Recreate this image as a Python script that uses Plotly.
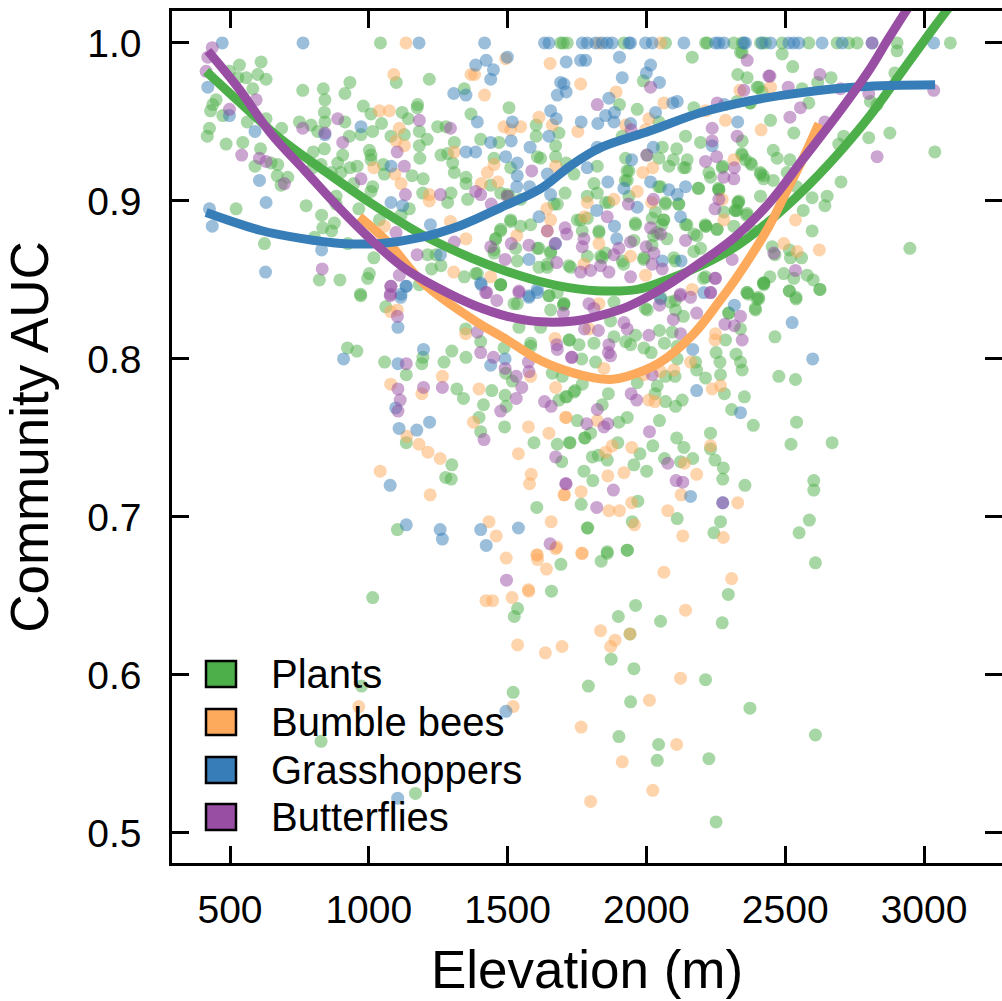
import plotly.graph_objects as go

series_names = ["Plants", "Bumble bees", "Grasshoppers", "Butterflies"]
series_colors = ["#4DAF4A", "#FDAA5C", "#377EB8", "#984EA3"]
x_ticks = [500, 1000, 1500, 2000, 2500, 3000]
y_ticks = [0.5, 0.6, 0.7, 0.8, 0.9, 1.0]

plants = [(1042,1.0),(534,.986),(612,.988),(498,.982),(600,.980),(630,.977),(558,.978),(528,.978),(582,.971),(932,.975),(836,.971),(762,.970),(914,.968),(1099,.975),(1218,.977),(450,.964),(438,.961),(430,.957),(474,.954),(842,.964),(840,.956),(980,.960),(1176,.961),(1174,.959),(1120,.956),(1142,.952),(750,.950),(562,.950),(630,.952),(842,.950),(914,.950),(1008,.955),(1046,.949),(1248,.947),(1278,.947),(426,.946),(418,.941),(686,.946),(792,.948),(816,.944),(930,.941),(972,.942),(1014,.944),(486,.936),(546,.937),(610,.933),(840,.933),(800,.931),(906,.929),(1002,.932),(1008,.929),(1080,.941),(1128,.942),(1182,.944),(1210,.939),(1182,.935),(590,.922),(672,.923),(648,.924),(670,.916),(888,.924),(828,.923),(798,.921),(864,.918),(900,.918),(932,.921),(958,.922),(1008,.926),(1052,.923),(1056,.917),(1156,.916),(1184,.927),(1196,.914),(684,.910),(708,.915),(946,.911),(1014,.909),(1008,.906),(882,.903),(1194,.905),(1296,.905),(774,.897),(522,.895),(830,.891),(882,.898),(964,.895),(876,.886),(834,.883),(866,.881),(624,.873),(1038,.888),(804,.877),(924,.873),(1018,.864),(822,.850),(896,.850),(996,.851),(1002,.854),(970,.841),(1212,.866),(1242,.866),(1226,.857),(1260,.859),(1344,.852),(1182,.847),(1116,.891),(1146,.895),(1284,.899),(1356,.901),(1350,.915),(1350,.911),(1308,.918),(1302,.924),(1308,.937),(1260,.929),(1284,.930),(1368,.955),(1344,.971),
(1691,1.0),(1700,1.0),(1715,1.0),(1919,1.0),(2069,1.0),(2213,1.0),(2315,1.0),(2345,1.0),(2429,1.0),(2219,1.0),(2411,1.0),(2489,1.0),(2585,1.0),(2687,1.0),(2729,1.0),(2759,1.0),(2903,1.0),(3095,1.0),
(2165,.991),(2345,.994),(1989,.976),(2329,.980),(2363,.978),(2405,.972),(1903,.961),(1967,.958),(1505,.959),(2171,.959),(2327,.963),(2373,.962),(2045,.950),(1603,.948),(1603,.941),(1685,.943),(1913,.941),(2141,.941),(2195,.937),(2345,.938),(1469,.937),(1403,.939),(1673,.935),(1673,.928),(1607,.928),(1619,.927),(1451,.927),(2057,.934),(2109,.933),(2045,.927),(1925,.927),(2003,.929),(2097,.926),(2147,.926),(2081,.922),(2141,.921),(1823,.922),(1711,.924),(1511,.921),(1739,.917),(1937,.919),(2225,.918),(2231,.915),(2345,.929),(2375,.924),(2411,.917),(2273,.921),(1931,.913),(1811,.911),(2051,.909),(2187,.908),(1707,.905),(1475,.905),(1505,.903),(1823,.905),(1787,.903),(2261,.907),(1853,.899),(1937,.903),(2069,.899),(2117,.898),(2333,.900),(2327,.894),(2363,.892),(2279,.893),(1679,.898),(1751,.888),(1787,.889),(1961,.885),(2021,.889),(2063,.888),(1511,.888),(1475,.882),(1583,.885),(2141,.885),(2213,.884),(1829,.881),(2255,.882),(1457,.876),(1547,.884),(2039,.880),(2171,.879),(1955,.875),(1613,.870),(1655,.868),(1835,.865),(1721,.859),(1913,.862),(1991,.864),(2099,.864),(2171,.868),(1451,.869),(1643,.860),(1385,.854),(1475,.847),(1853,.867),(1787,.865),(2195,.870),(2327,.876),(2387,.881),(2363,.842),(2423,.848),(1679,.842),(1535,.862),
(2339,.994),(2489,.993),(2903,.995),(2527,.985),(2895,.981),(2617,.975),(2665,.978),(2399,.972),(2417,.969),(2561,.971),(2375,.962),(2585,.962),(2807,.963),(2831,.961),(2447,.951),(2531,.943),(2877,.943),(2711,.941),(2693,.936),(2801,.940),(3039,.931),(2457,.932),(2471,.927),(2517,.926),(2343,.930),(2357,.926),(2379,.923),(2275,.922),(2507,.918),(2411,.918),(2421,.916),(2457,.913),(2701,.912),(2541,.909),(2261,.907),(2411,.903),(2329,.899),(2321,.894),(2597,.902),(2651,.903),(2643,.897),(2565,.894),(2361,.891),(2597,.881),(2949,.870),(2215,.884),(2315,.884),(2453,.871),(2463,.866),(2515,.869),(2519,.864),(2559,.864),(2445,.852),(2495,.854),(2531,.851),(2579,.853),(2601,.850),(2625,.844),(2515,.843),(2423,.848),(2403,.839),(2539,.839),(2213,.852),
(971,.840),(923,.807),(957,.805),(1057,.798),(1135,.790),(1191,.797),(1195,.801),(1299,.805),(1271,.798),(1350,.801),(1317,.781),(1341,.775),(1443,.780),(1413,.771),(1491,.777),(1495,.770),(1397,.763),(1403,.754),(1489,.757),(1517,.786),(1595,.747),(1679,.746),(1725,.747),(1751,.761),(1779,.750),(1695,.735),(1775,.729),(1765,.708),(1605,.706),(1787,.693),(1135,.747),(1299,.733),(1277,.725),(1297,.724),(1103,.692),(1685,.774),(1713,.776),(1743,.780),(1769,.784),(1061,.833),(1523,.835),(1649,.840),(1541,.820),(1349,.819),(1403,.811),(1583,.810),(1583,.808),(1487,.807),(1475,.847),(1721,.812),(1757,.809),(1767,.800),(1661,.791),(1697,.789),(1493,.791),(1619,.820),(1703,.835),
(2423,.847),(2515,.843),(2539,.838),(2625,.844),(2367,.841),(2405,.838),(2393,.831),(2297,.829),(2463,.814),(2477,.789),(2537,.787),(2541,.760),(2521,.746),(2669,.747),(2603,.723),(2603,.717),(2587,.698),(2550,.690),(2353,.776),(2307,.768),(2385,.758),(2231,.753),(2281,.778),(2267,.790),(2213,.788),(2345,.793),(2339,.798),(2323,.803),(2265,.798),(2181,.793),(2177,.798),(2111,.800),(2251,.804),(2285,.812),(2339,.819),(2047,.761),(2109,.750),(2135,.744),(2167,.737),(2231,.743),(2247,.736),(2277,.731),(2275,.724),(2355,.720),(2267,.697),(2243,.690),(2111,.699),(2023,.745),(1977,.740),(1955,.733),(2001,.729),(2065,.737),(2123,.735),(1969,.710),(1949,.697),(1931,.679),(1859,.677),(1789,.693),(1807,.723),(1859,.736),(1805,.738),(1827,.739),(1723,.747),(1799,.753),(1777,.750),(1897,.747),(1901,.760),(1931,.763),(1863,.778),(1739,.779),(1709,.776),(1841,.771),(2069,.773),(2105,.770),(2129,.774),(2031,.778),(2039,.783),(1967,.785),(2103,.789),(2069,.789),(1943,.809),(1883,.814),(1811,.810),(1723,.812),(1817,.798),(1991,.807),(2017,.804),(2047,.818),(2093,.817),(1961,.815),(2065,.810),(2111,.808),(1925,.811),(2003,.831),(1871,.824),(2105,.831),(2133,.827),(1701,.834),(1883,.836),(2051,.839),
(1014,.649),(1692,.670),(1536,.642),(1524,.637),(1658,.653),(974,.593),(1520,.589),(828,.558),(1168,.525),
(1859,.678),(1931,.679),(1837,.672),(2609,.671),(2295,.651),(1961,.644),(1899,.637),(2051,.634),(2273,.633),(1941,.626),(1873,.610),(1955,.604),(1791,.593),(2213,.597),(1943,.583),(2373,.579),(2609,.562),(1901,.561),(2044,.556),(2039,.546),(2225,.547),(2251,.507),
(1511,.887),(1457,.876),(1451,.867),(1529,.870),(1607,.870),(1655,.867),(1643,.858),(1727,.858),(1613,.858),(1829,.880),(1769,.881),(1841,.864),(1475,.847),(1649,.840),(1703,.835),(1535,.835),(1655,.831),(1763,.888),(1865,.899),(1391,.854),(1475,.881),(1439,.910),(1499,.904),(1547,.901),(1667,.898),
(1930,.919),(1924,.913),(2044,.909),(2068,.898),(2116,.898),(2032,.893),(1960,.886),(2062,.888),(2056,.885),(2146,.885),(2212,.885),(2182,.878),(2254,.882),(2026,.878),(2074,.876),(2020,.872),(2188,.908),(2260,.908),(2332,.899),(2320,.894),(2422,.914),(2134,.921),(2104,.862),(1990,.863),(1918,.860),(2206,.851),(2104,.837),(1996,.832),(2086,.836),(2362,.842),(2398,.838),(2392,.832),(2296,.829),(2422,.848)]

bumble_bees = [(1134,1.0),(1090,.980),(1038,.957),(1074,.957),(1110,.946),(1098,.938),(1128,.935),(1018,.921),(1094,.917),(1308,.931),(1116,.911),(1218,.904),(1218,.900),(1056,.884),(1294,.887),(1350,.876),(1306,.855),(1368,.980),
(1829,1.0),(2051,1.0),
(1653,.987),(1493,.990),(1763,.974),(1891,.969),(1417,.967),(1381,.980),(2063,.962),(1613,.953),(1661,.948),(1547,.947),(1487,.947),(1511,.945),(1753,.944),(1925,.948),(1997,.945),(2009,.952),(2213,.957),(2285,.951),(2413,.945),(1451,.923),(1427,.918),(1465,.912),(1673,.922),(1405,.911),(1987,.918),(2023,.921),(2315,.926),(1967,.906),(1883,.901),(1787,.899),(1641,.895),(1655,.888),(1533,.878),(1829,.873),(2279,.888),(1777,.890),(2019,.899),(2273,.901),(1943,.865),(1775,.860),(1997,.853),(1439,.852),(1643,.881),
(2495,.873),(2543,.868),(2623,.869),(2537,.888),(2337,.970),(2447,.972),
(1079,.784),(1191,.778),(1265,.789),(1397,.781),(1377,.760),(1137,.751),(1181,.746),(1213,.741),(1257,.737),(1041,.729),(1221,.714),(1673,.782),(1711,.763),(1575,.757),(1649,.753),(1539,.740),(1585,.727),(1579,.721),(1705,.714),(1765,.716),(1433,.697),(1459,.688),(1657,.697),(1495,.674),(1607,.676),(1769,.677),(1677,.681),(1349,.816),(1583,.789),(1671,.813),(1103,.831),(1079,.830),
(2165,.844),(2249,.816),(2247,.812),(2159,.798),(2099,.793),(2051,.792),(1991,.790),(1847,.794),(2237,.781),(2267,.783),(2009,.774),(2031,.773),(1709,.763),(1823,.761),(1793,.819),(1829,.835),(1947,.744),(1853,.741),(1877,.745),(2231,.745),(2137,.734),(2181,.727),(1919,.728),(1861,.726),(1703,.714),(2125,.714),(2329,.709),(1947,.709),(1903,.704),(1865,.704),(2077,.704),(1957,.695),(2131,.688),(2277,.687),
(1640,.667),(1422,.647),(1446,.647),(1516,.649),(1576,.653),(1536,.619),(1636,.614),(1696,.618),(964,.580),(1520,.580),(1608,.673),
(1605,.676),(1767,.677),(1673,.680),(1575,.654),(2063,.665),(2307,.661),(2141,.641),(1835,.628),(1941,.626),(1887,.622),(1871,.618),(2123,.598),(2011,.584),(1765,.567),(2109,.556),(1913,.545),(2023,.527),(1799,.520)]

grasshoppers = [(472,1.0),(763,1.0),(1181,1.0),(420,.972),(1306,.968),(1350,.967),(498,.954),(972,.947),(590,.944),(842,.942),(1080,.922),(606,.913),(630,.899),(426,.895),(436,.884),(1080,.899),(1122,.897),(1350,.931),(1222,.885),(830,.869),(628,.855),(1134,.846),(1116,.841),(1258,.866),
(1417,1.0),(1633,1.0),(1649,1.0),(1769,1.0),(1787,1.0),(1817,1.0),(1841,1.0),(1859,1.0),(1877,1.0),(1937,1.0),(1943,1.0),(1997,1.0),(2021,1.0),(2135,1.0),(2249,1.0),(2261,1.0),(2279,1.0),(2357,1.0),(2417,1.0),(2351,1.0),(2447,1.0),(2513,1.0),(2531,1.0),(2549,1.0),(2633,1.0),(2705,1.0),(2813,1.0),(3035,1.0),
(1385,.986),(1423,.989),(1449,.983),(1439,.977),(1499,.991),(1711,.988),(1763,.989),(1781,.989),(1903,.991),(2015,.986),(2000,.981),(1913,.978),(2047,.975),(1691,.975),(1703,.974),(1711,.969),(1679,.967),(1865,.965),(1391,.950),(1517,.950),(1655,.957),(1675,.952),(1765,.950),(1825,.949),(1853,.954),(1883,.950),(1885,.956),(1943,.949),(2033,.956),(2111,.963),(2095,.962),(1649,.941),(1513,.938),(1823,.934),(2025,.934),(1581,.934),(1439,.937),(1385,.931),(1493,.928),(1535,.924),(1535,.916),(1533,.909),(1579,.909),(1643,.917),(1787,.921),(1861,.912),(1947,.926),(2015,.912),(1919,.908),(2081,.907),(2141,.909),(2111,.904),(1967,.896),(1821,.894),(1655,.904),(1613,.890),(2123,.890),(1885,.884),(1893,.876),(1673,.873),(1577,.863),(2057,.862),(2125,.862),(2237,.935),(2281,.961),(2329,.950),(1403,.848),(1607,.844),(1577,.840),
(909,.800),(1105,.820),(1135,.846),(1115,.839),(1197,.806),(1105,.797),(1097,.769),(1219,.760),(1173,.755),(1109,.756),(1077,.720),(1135,.695),(1257,.692),(1265,.686),(1403,.692),(1539,.693),(1423,.682),(1439,.796),(1491,.800),(1405,.847),(1577,.839),(1607,.842),
(2317,.834),(2525,.823),(2599,.800),(2167,.806),(2181,.780),(2339,.766),(2159,.713),(2275,.709),(2051,.838),(2207,.842),
(1494,.577),(1104,.522)]

butterflies = [(436,.997),(420,.991),(414,.982),(594,.964),(498,.958),(888,.952),(1182,.951),(762,.946),(842,.943),(906,.937),(1294,.946),(1102,.931),(542,.929),(606,.927),(630,.925),(1128,.922),(696,.911),(972,.914),(1132,.904),(1258,.904),(1098,.880),(1308,.874),(1174,.866),(832,.857),(1110,.853),(1080,.846),(1078,.841),
(2015,.972),(1823,.961),(2255,.962),(1945,.945),(2237,.946),(2237,.938),(2327,.941),(2213,.925),(2253,.928),(2317,.921),(2279,.915),(2315,.914),(2001,.929),(1587,.919),(1403,.904),(1385,.906),(1441,.898),(1499,.903),(1935,.898),(2025,.901),(2261,.901),(2247,.895),(1859,.890),(1707,.883),(1713,.879),(1643,.881),(1775,.876),(1769,.871),(2015,.883),(2051,.879),(2141,.875),(1943,.874),(1901,.870),(1883,.866),(1577,.872),(1513,.873),(1439,.871),(1671,.873),(1999,.871),(1491,.863),(1677,.861),(1763,.855),(1835,.859),(1799,.856),(1865,.855),(2021,.860),(2057,.857),(2027,.867),(1943,.852),(2249,.851),(2309,.863),(1541,.843),(2123,.841),(1421,.842),(2441,.979),(2351,.970),(2363,.989),
(2813,1.0),(2445,.979),(2511,.972),(2625,.980),(2555,.959),(2517,.953),(2643,.950),(2831,.928),(3035,.970),(2801,.968),(2699,.971),(2537,.856),(2459,.867),(2247,.851),(2231,.842),
(1079,.846),(1077,.840),(1103,.827),(1135,.797),(1105,.781),(1197,.782),(1265,.782),(1113,.774),(1105,.767),(1403,.804),(1449,.801),(1491,.794),(1531,.789),(1551,.782),(1531,.775),(1475,.767),(1633,.773),(1657,.770),(1731,.801),(1679,.806),(1677,.809),(1575,.798),(1577,.792),(1785,.759),(1673,.738),(1711,.721),(1415,.749),(1653,.683),(1461,.837),(1541,.842),(1391,.817),(1425,.842),
(1793,.835),(1811,.832),(1701,.829),(1777,.819),(1827,.818),(1919,.823),(1931,.819),(2009,.815),(1865,.809),(1863,.804),(1871,.802),(1731,.801),(2097,.825),(2181,.829),(2047,.834),(2121,.840),(2159,.839),(2231,.842),(2283,.822),(2317,.821),(2339,.827),(2345,.812),(2123,.816),(2021,.790),(1945,.778),(1965,.774),(1823,.768),(1847,.757),(1861,.759),(2011,.754),(2077,.734),(2107,.723),(2131,.722),(2275,.709),(1709,.721),(1881,.717),(1821,.706),(1496,.660)]

plants_curve = [(414,.982),(528,.9635),(684,.939),(828,.9205),(1008,.8985),(1188,.879),(1368,.864),(1487,.856),(1607,.8495),(1727,.845),(1847,.843),(1967,.844),(2087,.851),(2201,.8595),(2321,.871),(2441,.887),(2561,.906),(2681,.928),(2801,.953),(2921,.982),(3041,1.011),(3110,1.027)]
bumble_bees_curve = [(966,.890),(1068,.874),(1199,.8476),(1379,.8245),(1499,.812),(1619,.799),(1739,.791),(1811,.788),(1871,.787),(1931,.789),(2051,.798),(2171,.816),(2261,.836),(2327,.852),(2441,.8837),(2501,.9047),(2561,.9257),(2621,.949)]
grasshoppers_curve = [(414,.8927),(612,.8813),(755,.8763),(899,.8731),(1043,.8731),(1187,.8769),(1331,.8845),(1475,.8958),(1619,.9078),(1727,.9223),(1835,.9337),(2014,.9444),(2194,.9558),(2374,.9634),(2554,.9684),(2770,.9722),(3040,.9735)]
butterflies_curve = [(420,.995),(528,.972),(648,.9425),(768,.9195),(888,.8965),(1008,.8755),(1128,.8575),(1248,.845),(1379,.834),(1499,.827),(1619,.8235),(1739,.824),(1811,.8265),(1931,.833),(2051,.844),(2201,.8617),(2321,.8774),(2441,.8984),(2561,.9257),(2681,.953),(2801,.9824),(2873,1.003),(2960,1.027)]

points = [plants, bumble_bees, grasshoppers, butterflies]
curves = [plants_curve, bumble_bees_curve, grasshoppers_curve, butterflies_curve]

fig = go.Figure()
for name, color, pts in zip(series_names, series_colors, points):
    fig.add_trace(go.Scatter(x=[p[0] for p in pts], y=[p[1] for p in pts], mode="markers", name=name,
                             marker=dict(color=color, size=13, opacity=0.5, line=dict(width=0)), showlegend=False))
for name, color, c in zip(series_names, series_colors, curves):
    fig.add_trace(go.Scatter(x=[p[0] for p in c], y=[p[1] for p in c], mode="lines", name=name + " trend",
                             line=dict(color=color, width=9, shape="spline", smoothing=1.0), showlegend=False))

FONT = "Liberation Sans, Arial, sans-serif"
INK = "#000000"
axis = dict(showgrid=False, zeroline=False, showline=True, linecolor=INK, linewidth=2.5,
            ticks="inside", ticklen=17, tickwidth=2.5, tickcolor=INK, mirror="ticks",
            tickfont=dict(family=FONT, size=39, color=INK))
fig.update_xaxes(range=[291, 3281], tickvals=x_ticks, ticktext=[str(t) for t in x_ticks], ticklabelstandoff=10,
                 title=dict(text="Elevation (m)", font=dict(family=FONT, size=53, color=INK), standoff=22), **axis)
fig.update_yaxes(range=[0.481, 1.0202], tickvals=y_ticks, ticktext=["%.1f" % t for t in y_ticks], ticklabelstandoff=20,
                 title=dict(text="Community AUC", font=dict(family=FONT, size=53, color=INK), standoff=22), **axis)

shapes, annotations = [], []
swatch_tops = [661, 709, 757, 804]
for name, color, top in zip(series_names, series_colors, swatch_tops):
    shapes.append(dict(type="rect", xref="paper", yref="paper", layer="above",
                       x0=(206 - 172) / 830, x1=(236 - 172) / 830,
                       y0=(863 - top - 26) / 852, y1=(863 - top) / 852,
                       fillcolor=color, line=dict(color=INK, width=2.5)))
    annotations.append(dict(text=name, xref="paper", yref="paper", x=(269 - 172) / 830,
                            y=(863 - top - 13) / 852, xanchor="left", yanchor="middle", showarrow=False,
                            font=dict(family=FONT, size=40, color=INK)))

fig.update_layout(width=1002, height=1001, margin=dict(l=172, r=0, t=11, b=138, autoexpand=False),
                  plot_bgcolor="white", paper_bgcolor="white", shapes=shapes, annotations=annotations)

fig.write_html("out.html", config=dict(displayModeBar=False),
               post_script="document.body.style.margin='0';document.documentElement.style.overflow='hidden';")
